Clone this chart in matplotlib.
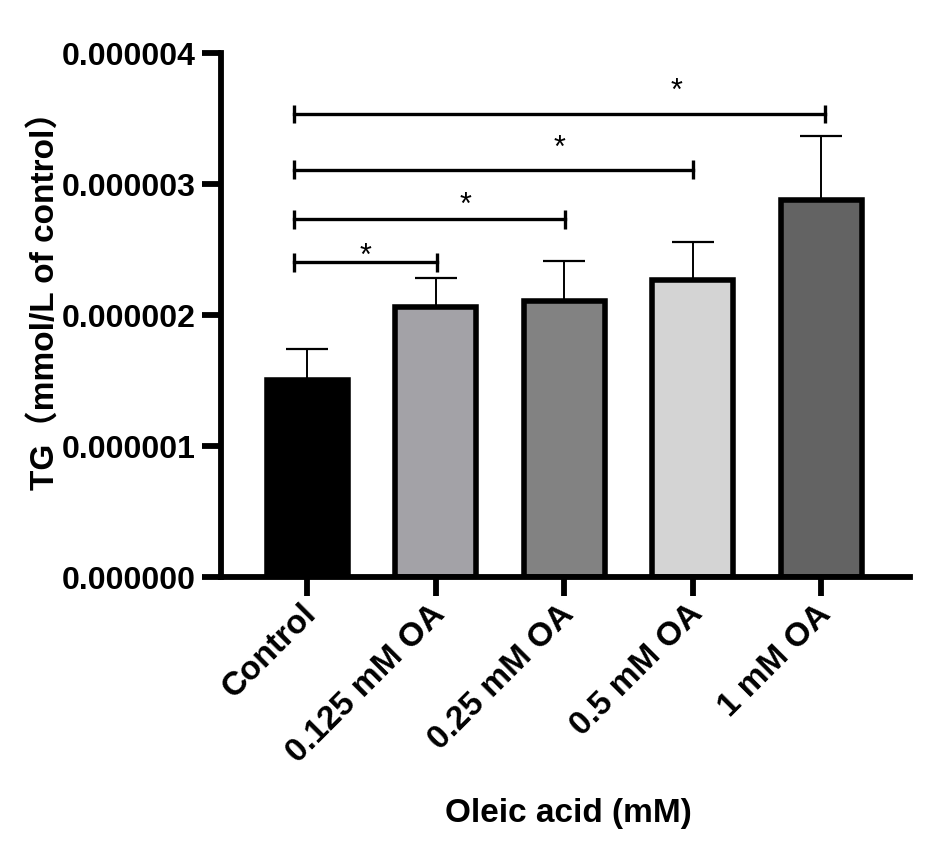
import matplotlib
matplotlib.use('Agg')
import matplotlib.pyplot as plt
import matplotlib.transforms as mtransforms
import numpy as np
from matplotlib.ticker import FormatStrFormatter

# --- data ---
groups = ['Control', '0.125 mM OA', '0.25 mM OA', '0.5 mM OA', '1 mM OA']
tg_mean = [1.505e-6, 2.061e-6, 2.112e-6, 2.269e-6, 2.878e-6]
tg_err = [0.238e-6, 0.221e-6, 0.300e-6, 0.290e-6, 0.492e-6]
bar_colors = ['#000000', '#a3a2a7', '#828282', '#d4d4d4', '#636363']

# significance brackets (all vs Control)
sig_start = -0.1
sig_end = [1.01, 2.01, 3.0, 4.03]
sig_y = [2.404e-6, 2.734e-6, 3.111e-6, 3.537e-6]
star_x = [0.454, 1.232, 1.964, 2.871]
star_y = [2.475e-6, 2.869e-6, 3.301e-6, 3.733e-6]

plt.rcParams['font.family'] = ['Liberation Sans', 'Noto Sans CJK SC', 'DejaVu Sans']
plt.rcParams['font.weight'] = 'bold'

fig = plt.figure(figsize=(9.28, 8.6), dpi=100)
ax = fig.add_axes([0.2381, 0.3288, 0.7425, 0.6092])

x = np.arange(len(groups))
ax.bar(x, tg_mean, width=0.63, color=bar_colors, edgecolor='black',
       linewidth=4, zorder=2)
# only the upper half of the error bar is shown
ax.errorbar(x, tg_mean, yerr=[np.zeros(len(x)), tg_err], fmt='none',
            ecolor='black', elinewidth=1.4, capsize=15, capthick=1.6, zorder=1)

# brackets + stars
star_fs = 22
for e, y in zip(sig_end, sig_y):
    ax.plot([sig_start, e], [y, y], color='black', lw=2.4, zorder=3)
    ax.vlines([sig_start, e], y - 0.072e-6, y + 0.072e-6, color='black',
              lw=2.4, zorder=3)
for sx, sy in zip(star_x, star_y):
    ax.annotate('*', (sx, sy), xytext=(0, -0.395 * star_fs),
                textcoords='offset points', ha='center', va='baseline',
                fontsize=star_fs, fontweight='normal')

ax.set_xlim(-0.67, 4.69)
ax.set_ylim(0, 4e-6)
ax.set_yticks(np.arange(0, 4.1e-6, 1e-6))
ax.yaxis.set_major_formatter(FormatStrFormatter('%.6f'))

for side in ['top', 'right']:
    ax.spines[side].set_visible(False)
for side in ['left', 'bottom']:
    ax.spines[side].set_linewidth(4.2)

ax.tick_params(axis='y', width=4.2, length=13.7, labelsize=23, pad=4.3)
ax.tick_params(axis='x', width=4.2, length=13.7, labelsize=24, pad=13.7)

ax.set_xticks(x)
ax.set_xticklabels(groups, rotation=45, ha='right', va='baseline',
                   rotation_mode='anchor')
for lbl in ax.get_xticklabels():
    lbl.set_transform(lbl.get_transform() +
                      mtransforms.ScaledTranslation(0.11, 0, fig.dpi_scale_trans))

ax.set_ylabel('TG（mmol/L of control）', fontsize=24, fontweight='bold',
              va='baseline')
ax.yaxis.set_label_coords(-0.2434, 0.543)
ax.set_xlabel('Oleic acid (mM)', fontsize=24, fontweight='bold', va='baseline')
ax.xaxis.set_label_coords(0.504, -0.467)

fig.savefig('out.png', dpi=100)
